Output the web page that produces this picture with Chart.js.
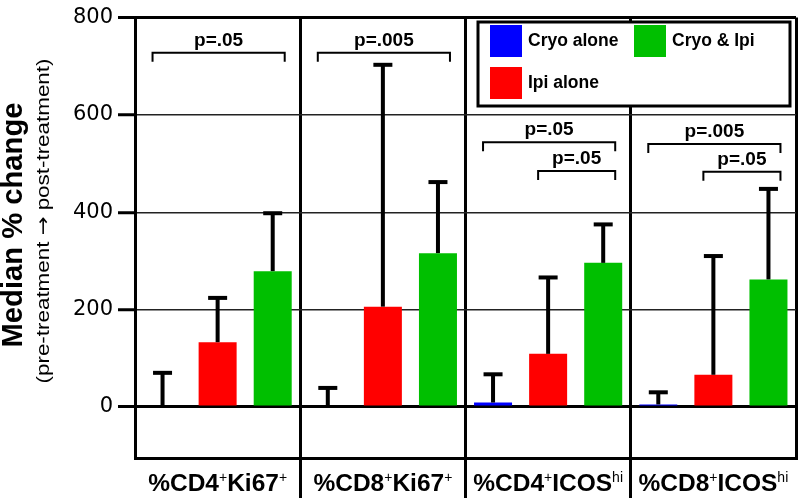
<!DOCTYPE html>
<html>
<head>
<meta charset="utf-8">
<script src="https://cdn.jsdelivr.net/npm/chart.js@4.4.1/dist/chart.umd.min.js"></script>
<style>
  html, body { margin: 0; padding: 0; background: #fff; }
  #wrap { width: 800px; height: 498px; position: relative; }
</style>
</head>
<body>
<div id="wrap"><canvas id="chart"></canvas></div>
<script>
// ^{..} marks superscript text
const categories = ['%CD4^{+}Ki67^{+}', '%CD8^{+}Ki67^{+}', '%CD4^{+}ICOS^{hi}', '%CD8^{+}ICOS^{hi}'];
const seriesNames = ['Cryo alone', 'Ipi alone', 'Cryo & Ipi'];
const seriesColors = ['#0000ff', '#ff0000', '#00bf00'];
const cryoAlone = [0, 0, 9, 5];
const ipiAlone = [133, 206, 109, 66];
const cryoIpi = [279, 316, 296, 262];
const cryoAloneErr = [70, 39, 58, 25];
const ipiAloneErr = [91, 497, 157, 244];
const cryoIpiErr = [119, 146, 79, 186];
const yTicks = [0, 200, 400, 600, 800];
// category, from series, to series, bracket level, label
const pBrackets = [
  [0, 0, 2, 728, 'p=.05'],
  [1, 0, 2, 728, 'p=.005'],
  [2, 0, 2, 544, 'p=.05'],
  [2, 1, 2, 485, 'p=.05'],
  [3, 0, 2, 540, 'p=.005'],
  [3, 1, 2, 483, 'p=.05']
];

const FONT = '"Liberation Sans", Arial, Helvetica, sans-serif';
const seriesValues = [cryoAlone, ipiAlone, cryoIpi];
const seriesErrs = [cryoAloneErr, ipiAloneErr, cryoIpiErr];

function drawRich(ctx, label, cx, baseline) {
    const parts = [];
    const re = /\^\{([^}]*)\}/g;
    let last = 0, m;
    while ((m = re.exec(label))) {
        if (m.index > last) parts.push({ t: label.slice(last, m.index), sup: false });
        parts.push({ t: m[1], sup: true });
        last = re.lastIndex;
    }
    if (last < label.length) parts.push({ t: label.slice(last), sup: false });
    const fontFor = p => p.sup ? '14px ' + FONT : 'bold 24.5px ' + FONT;
    let total = 0;
    parts.forEach(p => { ctx.font = fontFor(p); p.w = ctx.measureText(p.t).width; total += p.w; });
    let x = cx - total / 2;
    ctx.textAlign = 'left';
    ctx.textBaseline = 'alphabetic';
    parts.forEach(p => {
        ctx.font = fontFor(p);
        ctx.fillText(p.t, x, p.sup ? baseline - 9 : baseline);
        x += p.w;
    });
}

// rotated text (list of [text, font] pieces) stretched to a given length
function fitText(ctx, pieces, x, y, len, angle) {
    ctx.save();
    let w = 0;
    const ws = pieces.map(([t, f]) => { ctx.font = f; const v = ctx.measureText(t).width; w += v; return v; });
    ctx.translate(x, y);
    ctx.rotate(angle);
    ctx.scale(len / w, 1);
    ctx.textAlign = 'left';
    ctx.textBaseline = 'middle';
    let px = -w / 2;
    pieces.forEach(([t, f], i) => {
        ctx.font = f;
        ctx.fillText(t, px, 0);
        px += ws[i];
    });
    ctx.restore();
}

const extras = {
    id: 'extras',
    afterDatasetsDraw(chart) {
        const ctx = chart.ctx;
        const y = chart.scales.y;
        ctx.save();
        ctx.fillStyle = '#000';
        // error bars
        chart.data.datasets.forEach((ds, di) => {
            chart.getDatasetMeta(di).data.forEach((bar, i) => {
                const top = y.getPixelForValue(ds.data[i] + seriesErrs[di][i]);
                ctx.fillRect(bar.x - 2, top, 4, bar.y - top);
                ctx.fillRect(bar.x - 9.5, top - 2, 19, 4);
            });
        });
        // significance brackets
        ctx.strokeStyle = '#000';
        ctx.lineWidth = 2;
        pBrackets.forEach(([c, a, b, level, txt]) => {
            const x1 = chart.getDatasetMeta(a).data[c].x - 10;
            const x2 = chart.getDatasetMeta(b).data[c].x + 12;
            const py = y.getPixelForValue(level);
            ctx.beginPath();
            ctx.moveTo(x1, py + 9);
            ctx.lineTo(x1, py);
            ctx.lineTo(x2, py);
            ctx.lineTo(x2, py + 9);
            ctx.stroke();
            ctx.font = 'bold 19px ' + FONT;
            ctx.textAlign = 'center';
            ctx.textBaseline = 'alphabetic';
            ctx.fillText(txt, (x1 + x2) / 2, py - 7);
        });
        ctx.restore();
    },
    afterDraw(chart) {
        const ctx = chart.ctx;
        const x = chart.scales.x;
        ctx.save();
        ctx.fillStyle = '#000';
        // category labels
        categories.forEach((lab, i) => drawRich(ctx, lab, x.getPixelForValue(i), 491));
        // y axis title
        fitText(ctx, [['Median % change', 'bold 29px ' + FONT]], 14, 225, 245, -Math.PI / 2);
        const sub = '19px ' + FONT;
        fitText(ctx, [['(pre-treatment ', sub], ['\u2192', '19px "DejaVu Sans", sans-serif'], [' post-treatment)', sub]],
            44, 221, 325, -Math.PI / 2);
        // legend box
        ctx.fillStyle = '#fff';
        ctx.fillRect(478, 22, 312, 84);
        ctx.strokeStyle = '#000';
        ctx.lineWidth = 3;
        ctx.strokeRect(478, 22, 312, 84);
        chart.data.datasets.forEach((ds, i) => {
            const lx = 490 + Math.floor(i / 2) * 144;
            const ly = 25 + (i % 2) * 42;
            ctx.fillStyle = ds.backgroundColor;
            ctx.fillRect(lx, ly, 32, 32);
            ctx.fillStyle = '#000';
            ctx.font = 'bold 17.5px ' + FONT;
            ctx.textAlign = 'left';
            ctx.textBaseline = 'middle';
            ctx.fillText(ds.label, lx + 38, ly + 16);
        });
        ctx.restore();
    }
};

const edgeTick = c => (c.index > 0 && c.index < categories.length) ? '#000' : 'rgba(0,0,0,0)';

new Chart(document.getElementById('chart'), {
    type: 'bar',
    data: {
        labels: categories,
        datasets: seriesNames.map((name, i) => ({
            label: name,
            data: seriesValues[i],
            backgroundColor: seriesColors[i],
            borderWidth: 0,
            categoryPercentage: 1.0,
            barPercentage: 0.69
        }))
    },
    options: {
        responsive: true,
        maintainAspectRatio: false,
        animation: false,
        layout: { padding: { top: 14, right: 4, left: 0, bottom: 0 } },
        plugins: { legend: { display: false }, tooltip: { enabled: false } },
        scales: {
            x: {
                offset: true,
                grid: {
                    offset: true,
                    color: '#000',
                    lineWidth: 3,
                    drawTicks: true,
                    tickLength: 40,
                    tickWidth: 3,
                    tickColor: edgeTick
                },
                border: { display: true, color: '#000', width: 3 },
                ticks: { display: false },
                afterFit: s => { s.height = 40; }
            },
            y: {
                min: -105,
                max: 800,
                afterBuildTicks: s => { s.ticks = yTicks.map(v => ({ value: v })); },
                grid: {
                    color: c => (c.tick && (c.tick.value === 0 || c.tick.value === 800)) ? '#000' : '#222',
                    lineWidth: c => (c.tick && (c.tick.value === 0 || c.tick.value === 800)) ? 3 : 1.5,
                    drawTicks: true,
                    tickLength: 17,
                    tickWidth: 3,
                    tickColor: '#000'
                },
                border: { display: true, color: '#000', width: 3 },
                ticks: {
                    color: '#000',
                    padding: 5,
                    font: { family: '"DejaVu Sans", sans-serif', size: 21 }
                },
                afterFit: s => { s.width = 135; }
            }
        }
    },
    plugins: [extras]
});
</script>
</body>
</html>
